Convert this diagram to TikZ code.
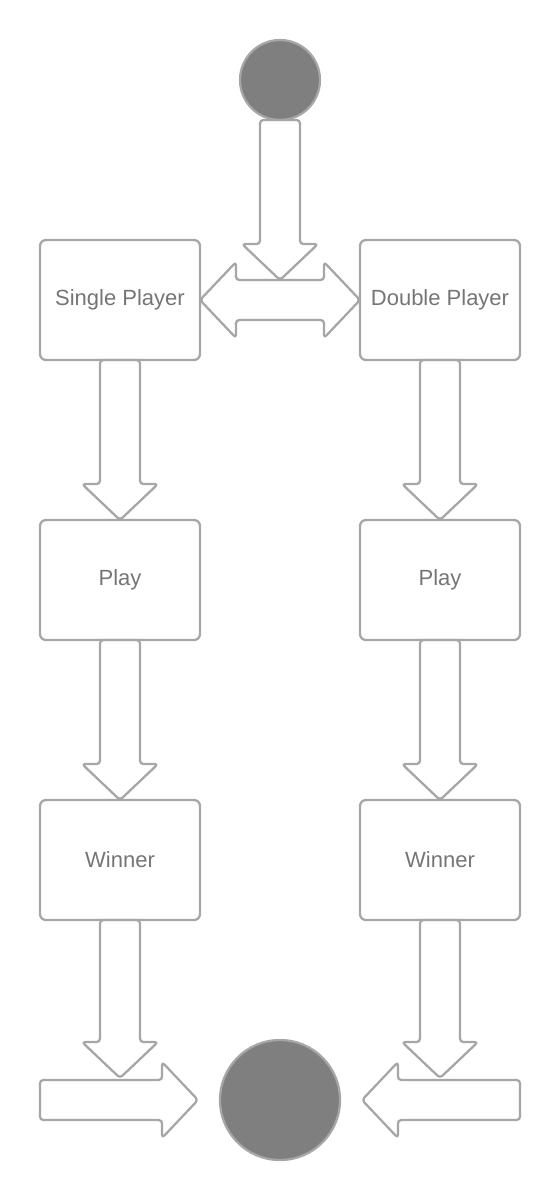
\documentclass[tikz,border=0pt]{standalone}
\usepackage{fontspec}
\setmainfont{Liberation Sans}
\usetikzlibrary{positioning,calc}
\definecolor{edgegrey}{HTML}{A6A6A6}
\definecolor{dotgrey}{HTML}{7F7F7F}
\definecolor{labelgrey}{HTML}{757575}
% block arrow from #1 to tip #2
\newcommand{\blockarrow}[2]{%
  \coordinate (hb) at ($(#2)!27pt!(#1)$);
  \draw[blkarrow] ($(#1)!15pt!90:(#2)$) -- ($(hb)!15pt!-90:(#1)$) -- ($(hb)!28.5pt!-90:(#1)$) -- (#2)
    -- ($(hb)!28.5pt!90:(#1)$) -- ($(hb)!15pt!90:(#1)$) -- ($(#1)!15pt!-90:(#2)$) -- cycle;}
% block arrow with two tips
\newcommand{\twowayarrow}[2]{%
  \coordinate (hb1) at ($(#1)!27pt!(#2)$);
  \coordinate (hb2) at ($(#2)!27pt!(#1)$);
  \draw[blkarrow] (#1) -- ($(hb1)!28.5pt!90:(#2)$) -- ($(hb1)!15pt!90:(#2)$) -- ($(hb2)!15pt!-90:(#1)$)
    -- ($(hb2)!28.5pt!-90:(#1)$) -- (#2) -- ($(hb2)!28.5pt!90:(#1)$) -- ($(hb2)!15pt!90:(#1)$)
    -- ($(hb1)!15pt!-90:(#2)$) -- ($(hb1)!28.5pt!-90:(#2)$) -- cycle;}

\begin{document}
\begin{tikzpicture}[x=0.75pt,y=-0.75pt,
  stepbox/.style={draw=edgegrey,line width=1.7pt,rounded corners=4.5pt,minimum width=120pt,minimum height=90pt,
    inner sep=0pt,outer sep=0pt,text=labelgrey,font=\fontsize{16.5}{20}\selectfont},
  statedot/.style={circle,draw=edgegrey,fill=dotgrey,line width=1.7pt,inner sep=0pt,outer sep=0pt},
  blkarrow/.style={draw=edgegrey,fill=white,line width=1.7pt,rounded corners=2.5pt,line join=round},
  node distance=120pt]
\useasboundingbox (0,0) rectangle (560,1200);
% states
\node[statedot,minimum size=60pt] (start) at (280,80) {};
\node[stepbox] (single) at (120,300) {Single Player};
\node[stepbox,right=of single] (double) {Double Player};
\node[stepbox,below=of single] (play1) {Play};
\node[stepbox,below=of double] (play2) {Play};
\node[stepbox,below=of play1] (winner1) {Winner};
\node[stepbox,below=of play2] (winner2) {Winner};
\node[statedot,minimum size=90pt] (finish) at (280,1100) {};
% arrows
\coordinate (join) at ($(single.east)!.5!(double.west)+(0,-20)$);
\blockarrow{start.south}{join}
\twowayarrow{single.east}{double.west}
\blockarrow{single.south}{play1.north}
\blockarrow{double.south}{play2.north}
\blockarrow{play1.south}{winner1.north}
\blockarrow{play2.south}{winner2.north}
\coordinate (lin) at (winner1.west |- finish);
\coordinate (lout) at ($(finish.west)+(-22,0)$);
\coordinate (rin) at (winner2.east |- finish);
\coordinate (rout) at ($(finish.east)+(22,0)$);
\blockarrow{lin}{lout}
\blockarrow{rin}{rout}
\coordinate (ldrop) at ($(winner1.south |- finish)+(0,-22)$);
\coordinate (rdrop) at ($(winner2.south |- finish)+(0,-22)$);
\blockarrow{winner1.south}{ldrop}
\blockarrow{winner2.south}{rdrop}
\end{tikzpicture}
\end{document}
